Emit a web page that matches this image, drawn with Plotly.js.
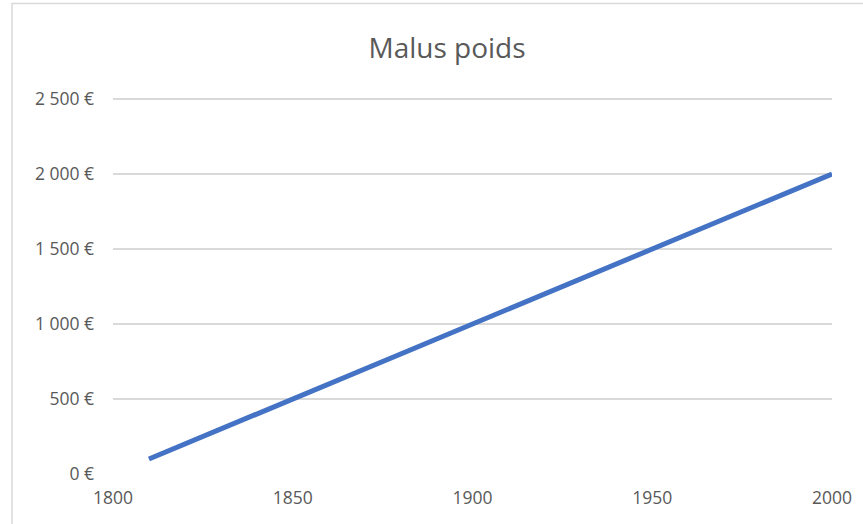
<!DOCTYPE html>
<html>
<head>
<meta charset="utf-8">
<script src="https://cdn.plot.ly/plotly-3.0.1.min.js"></script>
<style>html,body{margin:0;padding:0;background:#fff;}#chart{width:863px;height:524px;}</style>
</head>
<body>
<div id="chart"></div>
<script>
const chartTitle = "Malus poids";
const weights = [1810, 2000];
const malus = [100, 2000];
const yTickVals = [0, 500, 1000, 1500, 2000, 2500];
const yTickText = ["0 €", "500 €", "1 000 €", "1 500 €", "2 000 €", "2 500 €"];
const xTickVals = [1800, 1850, 1900, 1950, 2000];
const xTickText = ["1800", "1850", "1900", "1950", "2000"];

const grey = "#595959";
const font = "Open Sans, Liberation Sans, sans-serif";

Plotly.newPlot("chart", [{
  type: "scatter",
  mode: "lines",
  x: weights,
  y: malus,
  line: {color: "#4472C4", width: 5},
  hoverinfo: "skip"
}], {
  width: 863, height: 524,
  margin: {l: 113, r: 31, t: 96, b: 50},
  paper_bgcolor: "#fff", plot_bgcolor: "#fff",
  showlegend: false,
  title: {
    text: chartTitle,
    font: {family: font, size: 28, color: grey},
    xref: "container", yref: "container",
    x: 0.518, xanchor: "center", y: 0.908, yanchor: "middle"
  },
  xaxis: {
    range: [1800, 2000],
    tickvals: xTickVals, ticktext: xTickText,
    showgrid: false, zeroline: false, showline: false, ticks: "",
    tickfont: {family: font, size: 17.5, color: grey},
    ticklabelstandoff: 11
  },
  yaxis: {
    range: [0, 2520],
    tickvals: yTickVals, ticktext: yTickText,
    showgrid: true, gridcolor: "#d9d9d9", gridwidth: 1.3,
    zeroline: false, showline: false, ticks: "",
    tickfont: {family: font, size: 17.5, color: grey},
    ticklabelstandoff: 18
  },
  shapes: [{
    type: "rect", xref: "paper", yref: "paper",
    x0: -0.1405, x1: 1.2, y0: -0.3, y1: 1.245,
    line: {color: "#d9d9d9", width: 1.5}, fillcolor: "rgba(0,0,0,0)",
    layer: "below"
  }]
}, {staticPlot: true, displayModeBar: false});
</script>
</body>
</html>
